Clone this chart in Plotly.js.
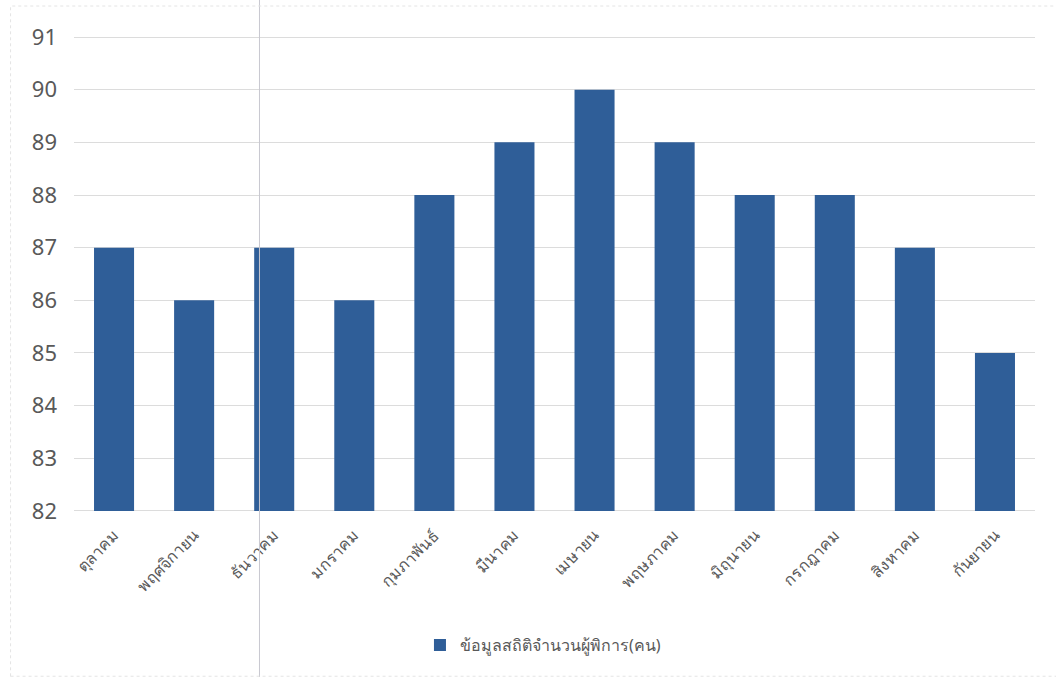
<!DOCTYPE html>
<html>
<head>
<meta charset="utf-8">
<script src="https://cdn.plot.ly/plotly-3.0.1.min.js"></script>
<style>html,body{margin:0;padding:0;background:#fff;}#chart{width:1056px;height:677px;}</style>
</head>
<body>
<div id="chart"></div>
<script>
const months = ["ตุลาคม","พฤศจิกายน","ธันวาคม","มกราคม","กุมภาพันธ์","มีนาคม","เมษายน","พฤษภาคม","มิถุนายน","กรกฎาคม","สิงหาคม","กันยายน"];
const values = [87, 86, 87, 86, 88, 89, 90, 89, 88, 88, 87, 85];
const seriesName = "ข้อมูลสถิติจำนวนผู้พิการ(คน)";
const yTicks = [82, 83, 84, 85, 86, 87, 88, 89, 90, 91];
const baseline = 82;

const trace = {
  type: "bar",
  x: months,
  y: values.map(v => v - baseline),
  base: baseline,
  name: seriesName,
  marker: {color: "#2f5e98"},
  width: 0.5,
  showlegend: true
};

const layout = {
  width: 1056, height: 677,
  margin: {l: 74, r: 21, t: 36, b: 165},
  paper_bgcolor: "#ffffff", plot_bgcolor: "#ffffff",
  font: {family: "Noto Sans, Open Sans, sans-serif", color: "#595959"},
  xaxis: {
    type: "category",
    tickangle: -45,
    tickfont: {size: 16, color: "#595959"},
    ticklabelstandoff: 10,
    showgrid: false, zeroline: false, showline: false, ticks: "",
    automargin: false
  },
  yaxis: {
    range: [81.98, 91.02],
    tickvals: yTicks,
    ticktext: yTicks.map(String),
    tickfont: {size: 22, color: "#595959"},
    ticklabelstandoff: 16,
    showgrid: true, gridcolor: "#dcdcdc", gridwidth: 1,
    zeroline: false, showline: false, ticks: "",
    automargin: false
  },
  legend: {
    orientation: "h", x: 0.488, xanchor: "center",
    yref: "container", y: 0.047, yanchor: "middle",
    font: {size: 16, color: "#595959"}
  },
  shapes: [
    {type: "line", xref: "paper", yref: "paper", x0: 0.193, x1: 0.193, y0: -0.36, y1: 1.08,
     line: {color: "#c8c8d0", width: 1}},
    {type: "rect", xref: "paper", yref: "paper", x0: -0.066, x1: 1.03, y0: -0.345, y1: 1.063,
     line: {color: "#e4e4e4", width: 1, dash: "dot"}}
  ]
};
Plotly.newPlot("chart", [trace], layout, {displayModeBar: false, staticPlot: true});
</script>
</body>
</html>
